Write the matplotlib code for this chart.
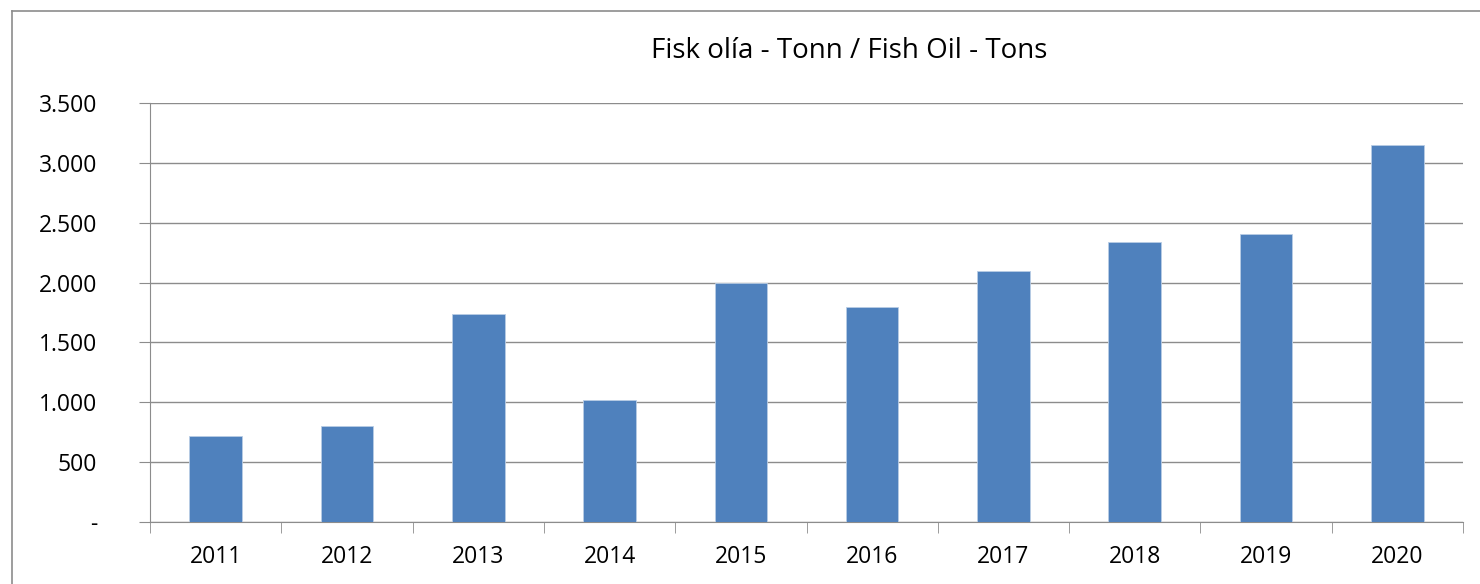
import matplotlib.pyplot as plt
from matplotlib.lines import Line2D

years = ['2011', '2012', '2013', '2014', '2015', '2016', '2017', '2018', '2019', '2020']
tons = [715, 800, 1735, 1015, 2000, 1800, 2100, 2340, 2410, 3155]
yticks = [0, 500, 1000, 1500, 2000, 2500, 3000, 3500]


def fmt(v):
    if v == 0:
        return '-'
    return f'{v:,}'.replace(',', '.')


plt.rcParams['font.family'] = ['Open Sans', 'DejaVu Sans']

fig = plt.figure(figsize=(14.8, 5.84), dpi=100)
ax = fig.add_axes([150 / 1480, 1 - 521.7 / 584, (1463 - 150) / 1480, (521.7 - 103.3) / 584])

pos = list(range(len(years)))
ax.bar(pos, tons, width=0.4, color='#4F81BD', edgecolor='#B9CDE5', linewidth=0.6, zorder=3)

ax.set_xlim(-0.5, len(years) - 0.5)
ax.set_ylim(0, 3500)
ax.set_yticks(yticks)
ax.set_yticklabels([fmt(v) for v in yticks])
ax.set_xticks(pos)
ax.set_xticklabels(years)
ax.set_xticks([p - 0.5 for p in pos] + [len(years) - 0.5], minor=True)

ax.grid(axis='y', color='#8C8C8C', linewidth=1.0, zorder=0)
for s in ['top', 'right']:
    ax.spines[s].set_visible(False)
ax.spines['left'].set_color('#8C8C8C')
ax.spines['bottom'].set_color('#8C8C8C')

ax.tick_params(axis='y', length=8, color='#8C8C8C', labelsize=16.5, pad=30)
ax.tick_params(axis='x', which='major', length=0, labelsize=16.5, pad=17)
ax.tick_params(axis='x', which='minor', length=8, color='#8C8C8C')
for lab in ax.get_yticklabels():
    lab.set_horizontalalignment('right')

fig.text(849 / 1480, 1 - 51 / 584, 'Fisk olía - Tonn / Fish Oil - Tons',
         ha='center', va='center', fontsize=20)

# outer chart frame (left and top edges visible)
fig.add_artist(Line2D([11.5 / 1480, 11.5 / 1480], [0, 1 - 10.5 / 584],
                      transform=fig.transFigure, color='#8C8C8C', linewidth=1.2))
fig.add_artist(Line2D([11.5 / 1480, 1], [1 - 10.5 / 584, 1 - 10.5 / 584],
                      transform=fig.transFigure, color='#8C8C8C', linewidth=1.2))

fig.savefig('out.png', dpi=100, facecolor='white')
